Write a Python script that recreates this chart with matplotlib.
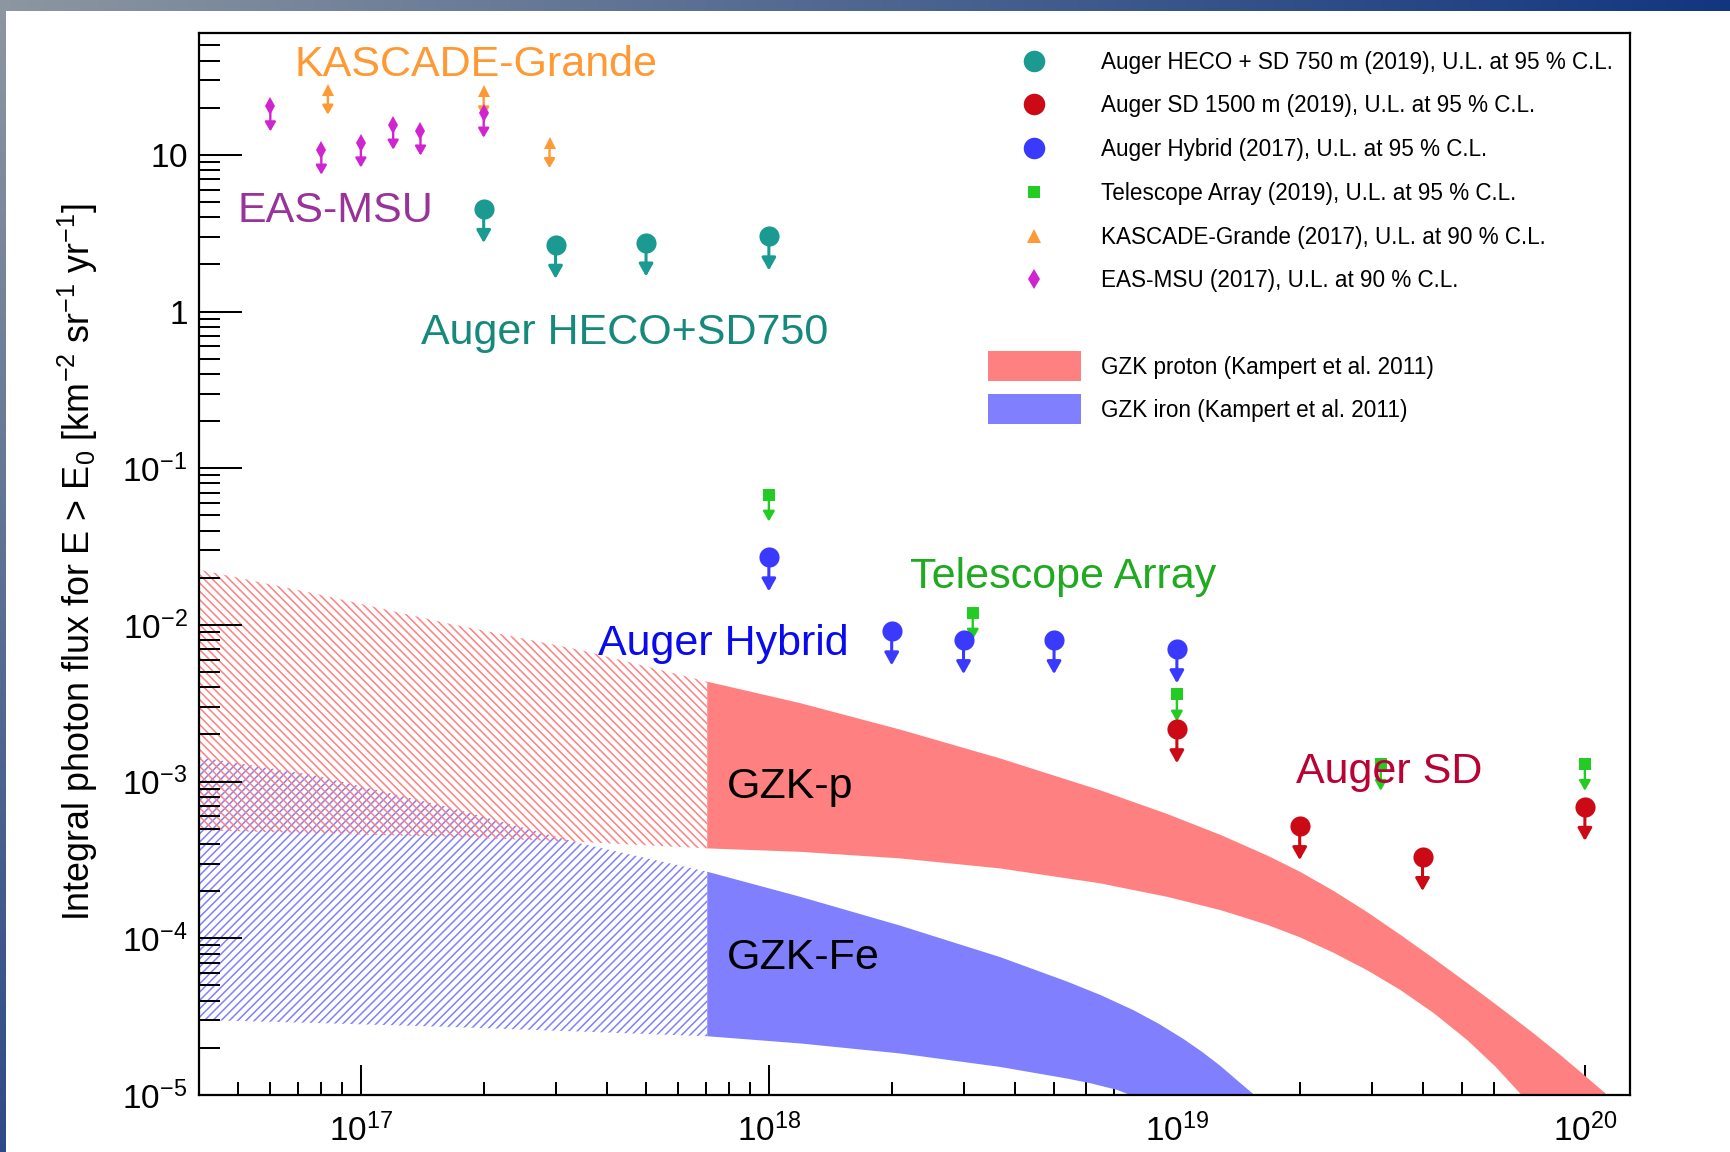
import numpy as np
import matplotlib
matplotlib.use("Agg")
import matplotlib.pyplot as plt
from matplotlib import font_manager
from matplotlib.lines import Line2D
from matplotlib.patches import Rectangle
from matplotlib.ticker import FixedLocator, FixedFormatter, LogLocator, NullFormatter

# ---------------------------------------------------------------------------
# Upper limits on the integral photon flux (E0 in eV, flux in km^-2 sr^-1 yr^-1)
# ---------------------------------------------------------------------------
heco_E = [2e17, 3e17, 5e17, 1e18]
heco_flux = [4.52, 2.67, 2.76, 3.02]

sd_E = [1e19, 2e19, 4e19, 1e20]
sd_flux = [2.16e-3, 5.2e-4, 3.3e-4, 6.9e-4]

hybrid_E = [1e18, 2e18, 3e18, 5e18, 1e19]
hybrid_flux = [2.7e-2, 9.1e-3, 8.0e-3, 8.0e-3, 7.0e-3]

ta_E = [1e18, 3.16e18, 1e19, 3.16e19, 1e20]
ta_flux = [6.8e-2, 1.2e-2, 3.6e-3, 1.3e-3, 1.3e-3]

kg_E = [8.3e16, 2.0e17, 2.9e17]
kg_flux = [26.1, 25.4, 11.9]

msu_E = [6.0e16, 8.0e16, 1.0e17, 1.2e17, 1.4e17, 2.0e17]
msu_flux = [20.4, 10.8, 12.0, 15.6, 14.3, 18.6]

# ---------------------------------------------------------------------------
# GZK photon expectations (Kampert et al. 2011), log10(E0/eV) and log10(flux)
# hatched part at low energy, solid part above
# ---------------------------------------------------------------------------
gzk_hatch_logE = [16.59, 16.884, 17.211, 17.538, 17.849]
gzkp_hatch_hi = [-1.640, -1.798, -1.989, -2.160, -2.362]
gzkp_hatch_lo = [-3.309, -3.330, -3.352, -3.385, -3.426]
gzkfe_hatch_hi = [-2.838, -2.958, -3.160, -3.394, -3.575]
gzkfe_hatch_lo = [-4.520, -4.540, -4.565, -4.595, -4.625]

gzkp_hi_logE = [17.849, 18.077, 18.322, 18.567, 18.812, 18.976, 19.107, 19.222,
                19.303, 19.384, 19.466, 19.548, 19.630, 19.712, 19.793, 19.874,
                19.935, 19.996, 20.055]
gzkp_hi = [-2.362, -2.499, -2.668, -2.852, -3.055, -3.206, -3.340, -3.472,
           -3.577, -3.697, -3.832, -3.978, -4.130, -4.286, -4.444, -4.606,
           -4.734, -4.868, -5.0]
gzkp_lo_logE = [17.849, 18.077, 18.322, 18.567, 18.812, 18.976, 19.107, 19.222,
                19.303, 19.384, 19.466, 19.548, 19.630, 19.712, 19.780, 19.845]
gzkp_lo = [-3.426, -3.448, -3.490, -3.554, -3.649, -3.735, -3.820, -3.914,
           -3.995, -4.092, -4.203, -4.330, -4.478, -4.650, -4.817, -5.0]

gzkfe_hi_logE = [17.849, 18.077, 18.322, 18.567, 18.731, 18.812, 18.894, 18.956,
                 19.017, 19.062, 19.107, 19.152, 19.190]
gzkfe_hi = [-3.575, -3.735, -3.919, -4.120, -4.276, -4.361, -4.459, -4.546,
            -4.644, -4.725, -4.815, -4.916, -5.0]
gzkfe_lo_logE = [17.849, 18.077, 18.322, 18.567, 18.731, 18.790, 18.853, 18.886]
gzkfe_lo = [-4.625, -4.671, -4.735, -4.821, -4.895, -4.926, -4.967, -5.0]

# Axis ticks and labels
xtick_vals = [1e17, 1e18, 1e19, 1e20]
xtick_labels = [r"$10^{17}$", r"$10^{18}$", r"$10^{19}$", r"$10^{20}$"]
ytick_vals = [1e-5, 1e-4, 1e-3, 1e-2, 1e-1, 1, 10]
ytick_labels = [r"$10^{-5}$", r"$10^{-4}$", r"$10^{-3}$", r"$10^{-2}$", r"$10^{-1}$",
                r"$1$", r"$10$"]

legend_labels = [
    "Auger HECO + SD 750 m (2019), U.L. at 95 % C.L.",
    "Auger SD 1500 m (2019), U.L. at 95 % C.L.",
    "Auger Hybrid (2017), U.L. at 95 % C.L.",
    "Telescope Array (2019), U.L. at 95 % C.L.",
    "KASCADE-Grande (2017), U.L. at 90 % C.L.",
    "EAS-MSU (2017), U.L. at 90 % C.L.",
]
band_labels = ["GZK proton (Kampert et al. 2011)", "GZK iron (Kampert et al. 2011)"]

# ---------------------------------------------------------------------------
# Style
# ---------------------------------------------------------------------------
C_HECO = "#1a9a90"
C_SD = "#cc0a16"
C_HYB = "#3a3aff"
C_TA = "#22cc22"
C_KG = "#ff9933"
C_MSU = "#d024d0"
C_P = "#ff8080"
C_FE = "#8080ff"

_available = {f.name for f in font_manager.fontManager.ttflist}
REG = "Liberation Sans" if "Liberation Sans" in _available else "DejaVu Sans"
NARROW = "Liberation Sans Narrow" if "Liberation Sans Narrow" in _available else REG

plt.rcParams["font.family"] = REG
plt.rcParams["mathtext.fontset"] = "custom"
plt.rcParams["mathtext.rm"] = REG
plt.rcParams["mathtext.it"] = REG + ":italic"
plt.rcParams["mathtext.bf"] = REG + ":bold"
plt.rcParams["mathtext.sf"] = NARROW
plt.rcParams["hatch.linewidth"] = 1.1

W, H = 1730, 1152
fig = plt.figure(figsize=(W / 100, H / 100), dpi=100)
fig.patch.set_facecolor("white")


def fx(px):
    return px / W


def fy(py):
    return 1 - py / H


# gradient frame strips
grad = np.linspace(0, 1, 512)[:, None]
c_tl = np.array([0.55, 0.59, 0.63])
c_tr = np.array([0.07, 0.21, 0.50])
c_bl = np.array([0.18, 0.29, 0.53])
top_strip = fig.add_axes([0, fy(11), 1, 11 / H])
top_strip.imshow((c_tl + (c_tr - c_tl) * grad)[None, :, :], aspect="auto", extent=[0, 1, 0, 1])
top_strip.axis("off")
left_strip = fig.add_axes([0, 0, 6 / W, fy(11)])
left_strip.imshow((c_tl + (c_bl - c_tl) * grad)[:, None, :], aspect="auto", extent=[0, 1, 0, 1])
left_strip.axis("off")

# main axes
AX_L, AX_R, AX_T, AX_B = 198.5, 1630, 33, 1095
ax = fig.add_axes([fx(AX_L), fy(AX_B), (AX_R - AX_L) / W, (AX_B - AX_T) / H])
ax.set_xscale("log")
ax.set_yscale("log")
ax.set_xlim(4.0e16, 1.29e20)
ax.set_ylim(1e-5, 60)


def band(logE_hi, hi, logE_lo, lo, **kw):
    xs = np.concatenate([10.0 ** np.array(logE_hi), 10.0 ** np.array(logE_lo)[::-1]])
    ys = np.concatenate([10.0 ** np.array(hi), 10.0 ** np.array(lo)[::-1]])
    ax.fill(xs, ys, **kw)


# hatched low-energy parts
band(gzk_hatch_logE, gzkfe_hatch_hi, gzk_hatch_logE, gzkfe_hatch_lo,
     facecolor="none", edgecolor=C_FE, hatch="////", linewidth=0, zorder=1)
band(gzk_hatch_logE, gzkp_hatch_hi, gzk_hatch_logE, gzkp_hatch_lo,
     facecolor="none", edgecolor=C_P, hatch="\\\\\\\\", linewidth=0, zorder=1)
# solid parts
band(gzkp_hi_logE, gzkp_hi, gzkp_lo_logE, gzkp_lo, facecolor=C_P, edgecolor="none",
     linewidth=0, zorder=2)
band(gzkfe_hi_logE, gzkfe_hi, gzkfe_lo_logE, gzkfe_lo, facecolor=C_FE, edgecolor="none",
     linewidth=0, zorder=2)


def upper_limits(E, F, color, marker, ms, length, head_len, head_w, lw):
    for e, f in zip(E, F):
        ax.annotate("", xy=(e, f), xytext=(0, -length), textcoords="offset pixels",
                    arrowprops=dict(arrowstyle=f"<|-,head_length={head_len},head_width={head_w}",
                                    color=color, lw=lw, shrinkA=0, shrinkB=0,
                                    mutation_scale=1),
                    zorder=4)
    ax.plot(E, F, ls="none", marker=marker, ms=ms, color=color, mew=0, zorder=5)


upper_limits(kg_E, kg_flux, C_KG, "^", 8.5, 25, 5.5, 3.2, 1.7)
upper_limits(msu_E, msu_flux, C_MSU, "d", 9, 25, 5.5, 3.2, 1.7)
upper_limits(ta_E, ta_flux, C_TA, "s", 9, 27, 6.0, 3.4, 1.7)
upper_limits(heco_E, heco_flux, C_HECO, "o", 14.5, 34, 7.5, 4.2, 2.2)
upper_limits(hybrid_E, hybrid_flux, C_HYB, "o", 14.5, 34, 7.5, 4.2, 2.2)
upper_limits(sd_E, sd_flux, C_SD, "o", 14.5, 34, 7.5, 4.2, 2.2)

# axes cosmetics
ax.xaxis.set_major_locator(FixedLocator(xtick_vals))
ax.xaxis.set_major_formatter(FixedFormatter(xtick_labels))
ax.xaxis.set_minor_locator(LogLocator(base=10, subs=np.arange(2, 10), numticks=50))
ax.xaxis.set_minor_formatter(NullFormatter())
ax.yaxis.set_major_locator(FixedLocator(ytick_vals))
ax.yaxis.set_major_formatter(FixedFormatter(ytick_labels))
ax.yaxis.set_minor_locator(LogLocator(base=10, subs=np.arange(2, 10), numticks=50))
ax.yaxis.set_minor_formatter(NullFormatter())
ax.tick_params(which="both", direction="in", top=False, right=False, width=1.45,
               color="black", labelsize=24)
ax.tick_params(axis="y", which="major", length=31, pad=8)
ax.tick_params(axis="y", which="minor", length=15)
ax.tick_params(axis="x", which="major", length=21.5, pad=13.5)
ax.tick_params(axis="x", which="minor", length=9.5)
for side in ax.spines.values():
    side.set_linewidth(1.6)
    side.set_color("black")


def fitted_size(text, family, target_px, base=20.0):
    t = fig.text(0, 0, text, fontsize=base, family=family)
    w = t.get_window_extent(renderer=fig.canvas.get_renderer()).width
    t.remove()
    return base * target_px / w


# y axis title
ylabel = (r"Integral photon flux for E > E$_{\mathsf{0}}$ "
          r"[km$^{\mathsf{-2}}$ sr$^{\mathsf{-1}}$ yr$^{\mathsf{-1}}$]")
fs_y = fitted_size(ylabel, NARROW, 717)
fig.text(fx(78), fy(562.5), ylabel, rotation=90, ha="center", va="center",
         family=NARROW, fontsize=fs_y)

# in-plot experiment labels
LABEL_FS = 31
annotations = [
    ("KASCADE-Grande", "#ff9933", 294, 76),
    ("EAS-MSU", "#993399", 238, 221.7),
    ("Auger HECO+SD750", "#158a7c", 421, 344),
    ("Telescope Array", "#1faa1f", 909.5, 588.3),
    ("Auger Hybrid", "#0a0aee", 597.5, 655),
    ("Auger SD", "#bb0033", 1296.5, 783.3),
    ("GZK-p", "black", 726.5, 798.3),
    ("GZK-Fe", "black", 726.5, 969.3),
]
for txt, col, px_, py_ in annotations:
    fig.text(fx(px_), fy(py_), txt, color=col, fontsize=LABEL_FS, ha="left",
             va="baseline", family=REG, zorder=6)

# legend (upper right, no frame)
fs_leg = fitted_size(legend_labels[0], NARROW, 513)
fs_px = fs_leg * 100 / 72
cap_half = 0.36 * fs_px
LEG_MARK_X, LEG_TEXT_X = 1034, 1101
legend_rows = [60.7, 103.7, 147.8, 192.0, 236.1, 279.1]
legend_marks = [("o", 15.5, C_HECO), ("o", 15.5, C_SD), ("o", 15.5, C_HYB),
                ("s", 9, C_TA), ("^", 9.5, C_KG), ("d", 10, C_MSU)]
for row, (mk, ms, col), lab in zip(legend_rows, legend_marks, legend_labels):
    fig.add_artist(Line2D([fx(LEG_MARK_X)], [fy(row)], ls="none", marker=mk, ms=ms,
                          color=col, mew=0, transform=fig.transFigure))
    fig.text(fx(LEG_TEXT_X), fy(row + cap_half), lab, family=NARROW, fontsize=fs_leg,
             ha="left", va="baseline")

band_rows = [366.3, 409.0]
for row, col, lab in zip(band_rows, [C_P, C_FE], band_labels):
    fig.add_artist(Rectangle((fx(987.5), fy(row + 15)), 93.5 / W, 30 / H,
                             facecolor=col, edgecolor="none", transform=fig.transFigure))
    fig.text(fx(LEG_TEXT_X), fy(row + cap_half), lab, family=NARROW, fontsize=fs_leg,
             ha="left", va="baseline")

fig.savefig("out.png", dpi=100, facecolor="white")
